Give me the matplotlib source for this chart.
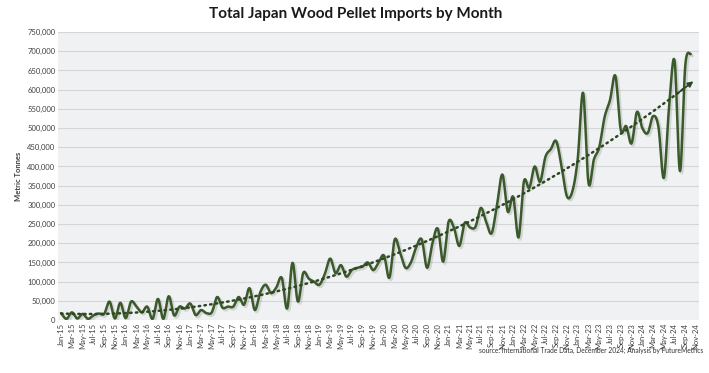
import numpy as np
import pandas as pd
import matplotlib
matplotlib.use("Agg")
import matplotlib.pyplot as plt
import matplotlib.patheffects as pe
from matplotlib.ticker import FuncFormatter

# Monthly imports (metric tonnes), Jan-15 .. Oct-24
imports_2015 = [18000, 3000, 20000, 4000, 16000, 3000, 12000, 17000, 16000, 48000, 4000, 45000]
imports_2016 = [5000, 48000, 35000, 20000, 35000, 3000, 55000, 3000, 62000, 12000, 35000, 30000]
imports_2017 = [43000, 13000, 26000, 18000, 20000, 60000, 32000, 35000, 35000, 60000, 40000, 83000]
imports_2018 = [26000, 72000, 92000, 70000, 85000, 110000, 30000, 149000, 48000, 123000, 108000, 100000]
imports_2019 = [92000, 120000, 160000, 122000, 143000, 113000, 130000, 136000, 139000, 150000, 130000, 150000]
imports_2020 = [168000, 110000, 210000, 175000, 136000, 150000, 190000, 210000, 136000, 200000, 238000, 152000]
imports_2021 = [256000, 240000, 193000, 253000, 241000, 243000, 292000, 255000, 226000, 300000, 379000, 282000]
imports_2022 = [321000, 215000, 361000, 344000, 400000, 360000, 425000, 445000, 466000, 400000, 322000, 335000]
imports_2023 = [420000, 592000, 357000, 418000, 450000, 529000, 573000, 636000, 495000, 505000, 460000, 542000]
imports_2024 = [500000, 487000, 531000, 503000, 370000, 560000, 675000, 388000, 665000, 693000]

imports = np.array(imports_2015 + imports_2016 + imports_2017 + imports_2018 + imports_2019
                   + imports_2020 + imports_2021 + imports_2022 + imports_2023 + imports_2024, dtype=float)

# category axis runs Jan-15 .. Nov-24
months = pd.date_range("2015-01-01", "2024-11-01", freq="MS").strftime("%b-%y").tolist()

title = "Total Japan Wood Pellet Imports by Month"
source = "source: International Trade Data, December 2024; Analysis by FutureMetrics"

line_color = "#3b5a2b"
trend_color = "#2e4722"


# Excel-style smoothed line (Catmull-Rom through the points)
def smooth(x, y, n=12):
    xs, ys = [], []
    px = np.concatenate([[x[0]], x, [x[-1]]])
    py = np.concatenate([[y[0]], y, [y[-1]]])
    t = np.linspace(0, 1, n, endpoint=False)
    for i in range(1, len(px) - 2):
        for arr, out in ((px, xs), (py, ys)):
            p0, p1, p2, p3 = arr[i - 1], arr[i], arr[i + 1], arr[i + 2]
            out.extend(0.5 * ((2 * p1) + (-p0 + p2) * t
                              + (2 * p0 - 5 * p1 + 4 * p2 - p3) * t ** 2
                              + (-p0 + 3 * p1 - 3 * p2 + p3) * t ** 3))
    xs.append(x[-1])
    ys.append(y[-1])
    return np.array(xs), np.array(ys)


plt.rcParams['font.family'] = ['Lato', 'DejaVu Sans']

fig = plt.figure(figsize=(7.09, 3.73), dpi=100)
ax = fig.add_axes([0.082, 0.142, 0.904, 0.772])
ax.set_facecolor("#f0f1f3")

x = np.arange(len(imports))
sx, sy = smooth(x, imports)
ax.plot(sx, sy, color=line_color, lw=1.8, solid_capstyle="round", zorder=3,
        path_effects=[pe.SimpleLineShadow(offset=(1.2, -1.2), shadow_color="#808080", alpha=0.25, linewidth=2.3),
                      pe.Normal()])

# quadratic trend line with arrow
coef = np.polyfit(x, imports, 2)
tx = np.linspace(0, len(imports) - 0.5, 200)
ty = np.polyval(coef, tx)
ax.plot(tx[:-3], ty[:-3], color=trend_color, lw=1.8, linestyle=(0, (0.6, 1.7)),
        dash_capstyle="round", zorder=4)
ax.annotate("", xy=(tx[-1], ty[-1]), xytext=(tx[-6], ty[-6]),
            arrowprops=dict(arrowstyle="-|>", color=trend_color, lw=1.2,
                            mutation_scale=8, shrinkA=0, shrinkB=0), zorder=4)

ax.set_xlim(-0.55, len(months) - 0.45)
ax.set_ylim(0, 750000)
ax.set_yticks(np.arange(0, 750001, 50000))
ax.yaxis.set_major_formatter(FuncFormatter(lambda v, p: f"{int(v):,}"))
ax.set_xticks(np.arange(0, len(months), 2))
ax.set_xticklabels(months[::2], rotation=90)
ax.tick_params(axis="both", length=0, labelsize=5.5, labelcolor="#404040", pad=2)
ax.grid(axis="y", color="#d3d5d8", lw=0.8)
ax.set_axisbelow(True)
for s in ax.spines.values():
    s.set_visible(False)

ax.set_ylabel("Metric Tonnes", fontsize=5.5, fontweight="bold", color="#404040", labelpad=4)
fig.text(0.502, 0.962, title, ha="center", va="center", fontsize=11, fontweight="bold", color="#1a1a1a")
fig.text(0.992, 0.06, source, ha="right", va="center", fontsize=4.8, color="#303030")

fig.savefig("out.png", dpi=100)
